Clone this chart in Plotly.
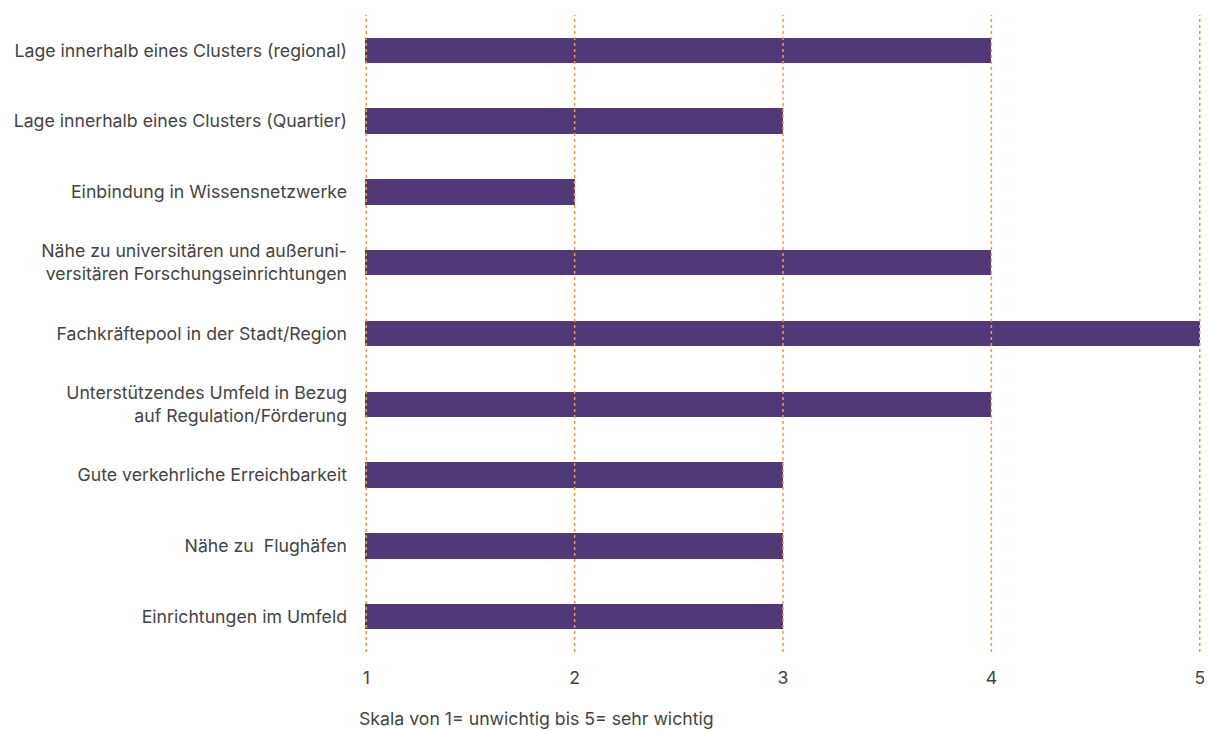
import plotly.graph_objects as go

categories = [
    "Lage innerhalb eines Clusters (regional)",
    "Lage innerhalb eines Clusters (Quartier)",
    "Einbindung in Wissensnetzwerke",
    "Nähe zu universitären und außeruni-<br>versitären Forschungseinrichtungen",
    "Fachkräftepool in der Stadt/Region",
    "Unterstützendes Umfeld in Bezug<br>auf Regulation/Förderung",
    "Gute verkehrliche Erreichbarkeit",
    "Nähe zu  Flughäfen",
    "Einrichtungen im Umfeld",
]
values = [4, 3, 2, 4, 5, 4, 3, 3, 3]
tick_vals = [1, 2, 3, 4, 5]
tick_text = ["1", "2", "3", "4", "5"]
axis_title = "Skala von 1= unwichtig bis 5= sehr wichtig"

FONT = "Inter, Roboto, sans-serif"
FS = 17.7
GRID = "#f39a3c"

fig = go.Figure(
    go.Bar(
        y=categories,
        x=values,
        orientation="h",
        marker=dict(color="#513878", line=dict(width=0)),
        width=0.36,
    )
)

shapes = [
    dict(
        type="line",
        xref="x",
        yref="paper",
        x0=v,
        x1=v,
        y0=0,
        y1=1,
        layer="above",
        line=dict(color=GRID, width=1.5, dash="dot"),
    )
    for v in tick_vals
]

fig.update_layout(
    width=1204,
    height=723,
    margin=dict(l=357, r=11, t=7, b=79),
    plot_bgcolor="white",
    paper_bgcolor="white",
    font=dict(family=FONT, size=FS, color="#444"),
    showlegend=False,
    bargap=0,
    shapes=shapes,
    annotations=[
        dict(
            text=axis_title,
            xref="paper",
            yref="paper",
            x=0,
            y=0,
            xanchor="left",
            yanchor="middle",
            xshift=-8,
            yshift=-66,
            showarrow=False,
            font=dict(family=FONT, size=FS, color="#444"),
        )
    ],
)
fig.update_xaxes(
    range=[0.994, 5.006],
    tickvals=tick_vals,
    ticktext=tick_text,
    showgrid=False,
    zeroline=False,
    showline=False,
    ticks="",
    ticklabelstandoff=13,
    tickfont=dict(size=FS, color="#444"),
)
fig.update_yaxes(
    autorange="reversed",
    showgrid=False,
    zeroline=False,
    showline=False,
    ticks="",
    ticklabelstandoff=17,
    tickfont=dict(size=FS, color="#444"),
)

fig.write_html("out.html")
